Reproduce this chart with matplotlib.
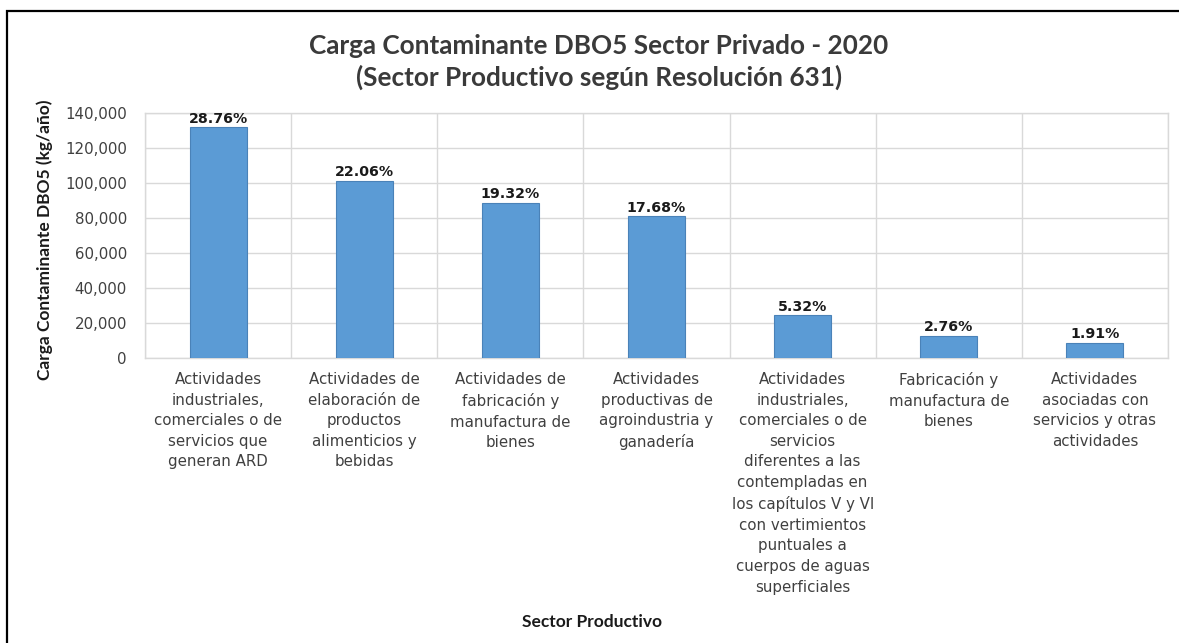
import matplotlib
matplotlib.use("Agg")
import matplotlib.pyplot as plt
from matplotlib.patches import Rectangle
from matplotlib.ticker import FuncFormatter, MultipleLocator

categories = [
    "Actividades\nindustriales,\ncomerciales o de\nservicios que\ngeneran ARD",
    "Actividades de\nelaboración de\nproductos\nalimenticios y\nbebidas",
    "Actividades de\nfabricación y\nmanufactura de\nbienes",
    "Actividades\nproductivas de\nagroindustria y\nganadería",
    "Actividades\nindustriales,\ncomerciales o de\nservicios\ndiferentes a las\ncontempladas en\nlos capítulos V y VI\ncon vertimientos\npuntuales a\ncuerpos de aguas\nsuperficiales",
    "Fabricación y\nmanufactura de\nbienes",
    "Actividades\nasociadas con\nservicios y otras\nactividades",
]
values = [132000, 101250, 88700, 81150, 24420, 12670, 8770]
pct_labels = ["28.76%", "22.06%", "19.32%", "17.68%", "5.32%", "2.76%", "1.91%"]

title = "Carga Contaminante DBO5 Sector Privado - 2020\n(Sector Productivo según Resolución 631)"
ylabel = "Carga Contaminante DBO5 (kg/año)"
xlabel = "Sector Productivo"

W, H = 1179, 643
fig = plt.figure(figsize=(W / 100, H / 100), dpi=100)
ax = fig.add_axes([145 / W, 1 - 358 / H, (1168 - 145) / W, (358 - 113) / H])

x = list(range(len(values)))
ax.bar(x, values, width=0.39, color="#5B9BD5", edgecolor="#4A82B8", linewidth=0.8, zorder=3)
for xi, v, lab in zip(x, values, pct_labels):
    ax.annotate(lab, (xi, v), xytext=(0, 1), textcoords="offset points",
                ha="center", va="bottom", fontsize=10.2, fontweight="bold",
                family="DejaVu Sans", color="#1a1a1a", zorder=4)

ax.set_xlim(-0.5, len(values) - 0.5)
ax.set_ylim(0, 140000)
ax.yaxis.set_major_locator(MultipleLocator(20000))
ax.yaxis.set_major_formatter(FuncFormatter(lambda v, p: f"{int(v):,}"))
ax.set_xticks(x)
ax.set_xticklabels(categories, fontsize=10.8, family="DejaVu Sans", color="#404040",
                   linespacing=1.47)
ax.xaxis.set_minor_locator(MultipleLocator(0.5))
ax.tick_params(axis="x", which="both", length=0, pad=10)
ax.tick_params(axis="y", length=0, pad=13, labelsize=10.8, labelcolor="#404040")
for t in ax.get_yticklabels():
    t.set_family("DejaVu Sans")

ax.grid(True, axis="y", which="major", color="#D9D9D9", linewidth=1, zorder=0)
ax.grid(True, axis="x", which="minor", color="#D9D9D9", linewidth=1, zorder=0)
ax.grid(False, axis="x", which="major")
for s in ax.spines.values():
    s.set_color("#D9D9D9")
    s.set_linewidth(1)

fig.text(599 / W, 1 - 62 / H, title, ha="center", va="center", fontsize=18.8,
         fontweight="bold", family="Lato", color="#3a3a3a", linespacing=1.33)
fig.text(45 / W, 1 - 240 / H, ylabel, rotation=90, ha="center", va="center",
         fontsize=12.5, fontweight="bold", family="Lato", color="#1a1a1a")
fig.text(592 / W, 1 - 622 / H, xlabel, ha="center", va="center",
         fontsize=12.5, fontweight="bold", family="Lato", color="#1a1a1a")

fig.patches.append(Rectangle((7 / W, -0.1), 1.2, 1 - 10.5 / H + 0.1,
                             transform=fig.transFigure, fill=False,
                             edgecolor="black", linewidth=1.6))

fig.savefig("out.png", dpi=100)
